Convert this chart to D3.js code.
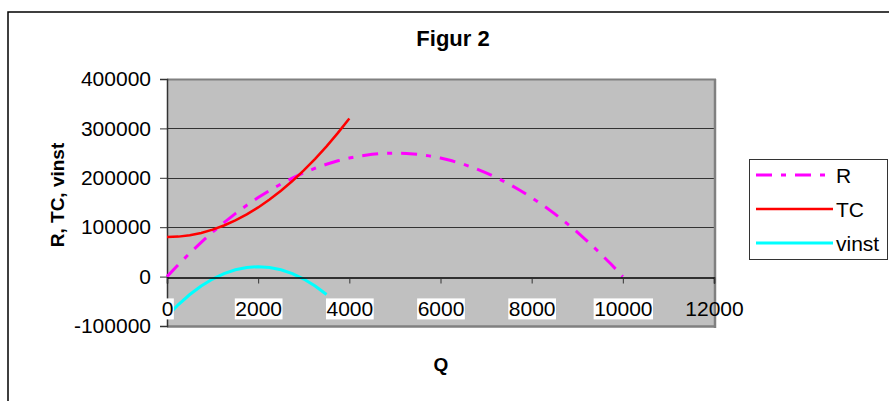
<!DOCTYPE html>
<html><head><meta charset="utf-8">
<script src="https://cdn.jsdelivr.net/npm/d3@7"></script>
<style>body{margin:0;background:#fff}svg{display:block}text{font-family:"Liberation Sans",Arial,sans-serif}</style>
</head><body><svg id="c" width="889" height="401"></svg>
<script>
const title = "Figur 2";
const yTitle = "R, TC, vinst";
const xTitle = "Q";
const qR = [0,250,500,750,1000,1250,1500,1750,2000,2250,2500,2750,3000,3250,3500,3750,4000,4250,4500,4750,5000,5250,5500,5750,6000,6250,6500,6750,7000,7250,7500,7750,8000,8250,8500,8750,9000,9250,9500,9750,10000];
const R = [0,24375,47500,69375,90000,109375,127500,144375,160000,174375,187500,199375,210000,219375,227500,234375,240000,244375,247500,249375,250000,249375,247500,244375,240000,234375,227500,219375,210000,199375,187500,174375,160000,144375,127500,109375,90000,69375,47500,24375,0];
const qTC = [0,250,500,750,1000,1250,1500,1750,2000,2250,2500,2750,3000,3250,3500,3750,4000];
const TC = [80000,80938,83750,88438,95000,103438,113750,125938,140000,155938,173750,193438,215000,238438,263750,290938,320000];
const qV = [0,250,500,750,1000,1250,1500,1750,2000,2250,2500,2750,3000,3250,3500];
const vinst = [-80000,-56563,-36250,-19063,-5000,5938,13750,18438,20000,18438,13750,5938,-5000,-19063,-36250];
const xTicks = [0,2000,4000,6000,8000,10000,12000];
const yTicks = [-100000,0,100000,200000,300000,400000];
const seriesNames = ["R","TC","vinst"];

const svg = d3.select("#c");
const L=167, T=79, Rt=714, B=326;
const x = d3.scaleLinear().domain([0,12000]).range([L,Rt]);
const y = d3.scaleLinear().domain([-100000,400000]).range([B,T]);
const fmt = d => String(d);

// outer border
svg.append("rect").attr("x",8).attr("y",12).attr("width",900).attr("height",400)
  .attr("fill","none").attr("stroke","#000").attr("stroke-width",1.5);

// title
svg.append("text").attr("x",453).attr("y",46).attr("text-anchor","middle")
  .attr("font-size",22).attr("font-weight","bold").text(title);

// plot area
svg.append("rect").attr("x",L).attr("y",T).attr("width",Rt-L).attr("height",B-T)
  .attr("fill","#c0c0c0");
// gridlines
svg.append("g").selectAll("line").data(yTicks.filter(d=>d>0 && d<400000)).join("line")
  .attr("x1",L).attr("x2",Rt).attr("y1",d=>Math.round(y(d))+0.5).attr("y2",d=>Math.round(y(d))+0.5)
  .attr("stroke","#333").attr("stroke-width",1);
// plot border (3D look)
svg.append("line").attr("x1",L).attr("x2",Rt+2).attr("y1",T+0.5).attr("y2",T+0.5).attr("stroke","#808080").attr("stroke-width",2);
svg.append("line").attr("x1",Rt+1).attr("x2",Rt+1).attr("y1",T).attr("y2",B+2).attr("stroke","#808080").attr("stroke-width",2.5);
svg.append("line").attr("x1",L).attr("x2",Rt+2).attr("y1",B+0.5).attr("y2",B+0.5).attr("stroke","#808080").attr("stroke-width",2.5);

// y axis
const yAxis = d3.axisLeft(y).tickValues(yTicks).tickSize(7).tickPadding(9).tickFormat(fmt);
const gy = svg.append("g").attr("transform",`translate(${L},0)`).call(yAxis);
gy.select(".domain").attr("stroke","#333").attr("stroke-width",1.5);
gy.selectAll(".tick line").attr("stroke","#333");
gy.selectAll("text").attr("font-size",21).attr("fill","#000").attr("font-family","Liberation Sans, Arial, sans-serif");

// series lines
const line = d3.line().x(d=>x(d[0])).y(d=>y(d[1]));
const plotG = svg.append("g");
plotG.append("path").datum(qR.map((q,i)=>[q,R[i]])).attr("d",line)
  .attr("fill","none").attr("stroke","#ff00ff").attr("stroke-width",3).attr("stroke-dasharray","16,9,5,9");
plotG.append("path").datum(qTC.map((q,i)=>[q,TC[i]])).attr("d",line)
  .attr("fill","none").attr("stroke","#ff0000").attr("stroke-width",2.5);
plotG.append("path").datum(qV.map((q,i)=>[q,vinst[i]])).attr("d",line)
  .attr("fill","none").attr("stroke","#00ffff").attr("stroke-width",3);

// x axis at y=0
const xAxis = d3.axisBottom(x).tickValues(xTicks).tickSize(6).tickPadding(18).tickFormat(fmt);
const gx = svg.append("g").attr("transform",`translate(0,${Math.round(y(0))+0.5})`).call(xAxis);
gx.select(".domain").attr("stroke","#000").attr("stroke-width",1.5);
gx.selectAll(".tick line").attr("stroke","#333");
gx.selectAll(".tick text").attr("font-size",21).attr("fill","#000").attr("font-family","Liberation Sans, Arial, sans-serif");
gx.selectAll(".tick").each(function(d){
  if(d===12000) return;
  const t = d3.select(this).select("text").node();
  const bb = t.getBBox();
  d3.select(this).insert("rect","text").attr("x",bb.x-0.5).attr("y",bb.y+1).attr("width",bb.width+1).attr("height",bb.height-2).attr("fill","#fff");
});

// axis titles
svg.append("text").attr("transform","translate(64,195) rotate(-90)").attr("text-anchor","middle")
  .attr("font-size",19).attr("font-weight","bold").text(yTitle);
svg.append("text").attr("x",441).attr("y",371).attr("text-anchor","middle")
  .attr("font-size",19).attr("font-weight","bold").text(xTitle);

// legend
const lg = svg.append("g");
lg.append("rect").attr("x",749.5).attr("y",159.5).attr("width",138).attr("height",100)
  .attr("fill","#fff").attr("stroke","#333").attr("stroke-width",1);
const styles = [{c:"#ff00ff",w:3,d:"16,9,5,9"},{c:"#ff0000",w:2.5,d:null},{c:"#00ffff",w:3,d:null}];
const ly = d3.scaleOrdinal().domain(seriesNames).range([175,209,243]);
seriesNames.forEach((n,i)=>{
  lg.append("line").attr("x1",756).attr("x2",833).attr("y1",ly(n)).attr("y2",ly(n))
    .attr("stroke",styles[i].c).attr("stroke-width",styles[i].w).attr("stroke-dasharray",styles[i].d);
  lg.append("text").attr("x",836).attr("y",ly(n)).attr("dy","0.36em").attr("font-size",21).text(n);
});
</script></body></html>
